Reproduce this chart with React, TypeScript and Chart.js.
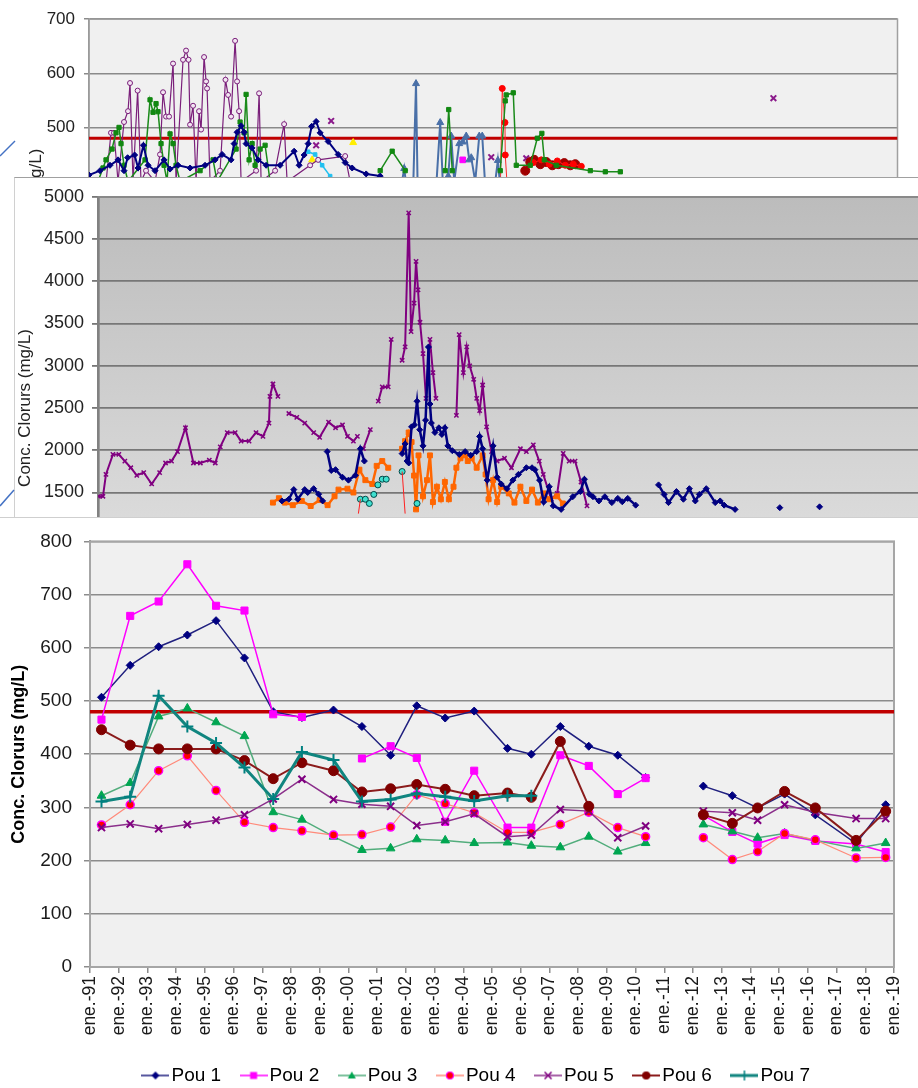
import React, { useEffect, useRef } from 'react';
import { Chart, registerables } from 'chart.js';

Chart.register(...registerables);

const FONT = "'Liberation Sans', Arial, Helvetica, sans-serif";

type Pt = [number, number | null];

// ================= Main chart (bottom) =================
const sampleYears = [1991.40, 1992.40, 1993.39, 1994.39, 1995.39, 1996.38, 1997.38, 1998.38, 1999.48, 2000.47, 2001.47, 2002.38, 2003.37, 2004.38, 2005.54, 2006.37, 2007.38, 2008.37, 2009.38, 2010.35, 2011.40, 2012.36, 2013.37, 2014.25, 2015.19, 2016.26, 2017.68, 2018.71];
const pou1 = [507, 567, 602, 624, 651, 581, 480, 469, 483, 452, 398, 491, 468, 481, 411, 400, 452, 415, 398, 356, null, 340, 322, 299, 325, 286, 232, 305];
const pou2 = [465, 660, 687, 757, 679, 670, 475, 470, null, 392, 415, 393, 273, 369, 262, 262, 398, 378, 325, 355, null, 285, 254, 232, 248, 237, 231, 216];
const pou3 = [322, 346, 471, 486, 460, 434, 291, 277, 245, 220, 223, 240, 238, 233, 234, 228, 225, 245, 217, 233, null, 268, 255, 243, 251, 238, 223, 233];
const pou4 = [267, 305, 369, 397, 332, 272, 262, 256, 248, 249, 263, 324, 307, 290, 253, 253, 268, 291, 262, 245, null, 243, 202, 217, 251, 239, 205, 206];
const pou5 = [262, 269, 260, 268, 276, 286, 316, 353, 315, 306, 302, 266, 273, 288, 245, 248, 296, 293, 243, 265, null, 293, 290, 276, 305, 291, 279, 279];
const pou6 = [446, 417, 410, 410, 410, 388, 354, 384, 369, 329, 335, 343, 334, 322, 327, 319, 424, 302, null, null, null, 286, 270, 299, 330, 299, 238, 293];
const pou7 = [311, 320, 510, 452, 421, 375, 316, 404, 389, 311, 315, 326, 320, 312, 322, 322];
const seriesLabels = ['Pou 1', 'Pou 2', 'Pou 3', 'Pou 4', 'Pou 5', 'Pou 6', 'Pou 7'];
const xTickLabels = ['ene.-91', 'ene.-92', 'ene.-93', 'ene.-94', 'ene.-95', 'ene.-96', 'ene.-97', 'ene.-98', 'ene.-99', 'ene.-00', 'ene.-01', 'ene.-02', 'ene.-03', 'ene.-04', 'ene.-05', 'ene.-06', 'ene.-07', 'ene.-08', 'ene.-09', 'ene.-10', 'ene.-11', 'ene.-12', 'ene.-13', 'ene.-14', 'ene.-15', 'ene.-16', 'ene.-17', 'ene.-18', 'ene.-19'];
const limitValue = 480;
const yTitle = 'Conc. Clorurs (mg/L)';

// ================= Background chart (top, cropped) =================
const topPurple: Pt[] = [[8, 380], [11, 490], [12.5, 490], [14.5, 400], [17.5, 510], [19.5, 530], [20.5, 582], [22, 400], [24.3, 568], [26, 400], [28.5, 420], [33, 400], [35.5, 450], [37, 565], [38.5, 520], [40, 520], [42, 618], [43.5, 400], [47, 625], [48.5, 642], [49.75, 625], [50.5, 505], [52, 540], [53.5, 400], [55, 530], [56, 496], [57.5, 630], [58.5, 585], [59, 572], [60.5, 400], [65.5, 420], [68.2, 588], [69.5, 560], [71, 520], [73, 660], [74, 585], [75, 530], [76, 400], [83.5, 420], [85, 563], [86, 400], [93, 420], [97.5, 506], [99, 400], [110.5, 430], [114.5, 440], [128, 447], [130.5, 400]];
const topGreen: Pt[] = [[4.5, 400], [7, 425], [8.5, 440], [11.5, 460], [13.5, 490], [15, 500], [16, 470], [17.5, 430], [19.5, 400], [28, 440], [30.5, 551], [32, 528], [33.5, 544], [34.5, 529], [36, 470], [37.5, 430], [39, 400], [40.5, 488], [42, 470], [43.5, 430], [45.5, 400], [55.5, 420], [62, 440], [64, 400], [73.5, 460], [75.5, 510], [77.5, 490], [78.5, 561], [80, 440], [81.5, 470], [83, 430], [85.5, 460], [88, 467], [90.5, 400], [92, null], [145.5, 420], [151.5, 456], [158, 420], [160, null], [178, 420], [179.75, 533], [181.5, 420], [190, null], [205.5, 420], [208, 549], [208.5, 560], [212, 564], [213.5, 430], [220.5, 430], [224, 480], [226.3, 489], [227.5, 440], [233.5, 430], [250.5, 420], [258, 418], [265.5, 418]];
const topNavy: Pt[] = [[0, 412], [5.5, 420], [10.5, 430], [14.5, 440], [17.5, 420], [19.3, 444], [22.8, 449], [24.5, 425], [27.2, 467], [29.5, 430], [33, 420], [37.5, 440], [40.5, 423], [44.5, 430], [50.5, 425], [58, 430], [63, 440], [66.5, 450], [71, 440], [72.5, 470], [74, 491], [76, 503], [77.5, 491], [78.5, 470], [81.5, 462], [84.5, 440], [88.5, 430], [95.5, 430], [102.5, 456], [105, 430], [107.5, 449], [109.5, 470], [111.25, 502], [113.5, 511], [115.5, 490], [119.5, 474], [124.5, 450], [128, 435], [131.5, 425], [138.5, 414], [145.5, 410]];
const topSteel: Pt[] = [[155.5, 380], [157.5, 424], [159, 380], [162, 390], [163.4, 581], [164.25, 380], [173.5, 390], [175.5, 509], [177, 380], [179.5, 410], [181, 484], [182.5, 400], [185, 470], [186.75, 473], [188.5, 484], [190, 440], [191, 444], [193, 400], [195, 484], [196.5, 484], [198, 390], [203, 400], [204.3, 439], [205.5, 390]];
const topRed: Pt[] = [[205.5, 380], [206.5, 572], [207.85, 509], [208, 449], [209, 390], [215, null], [222, 435], [226, 440], [230, 432], [234, 438], [238, 430], [242, 432], [246, 428]];
const topMaroon: Pt[] = [[218, 420], [220.5, 436], [222.5, 440], [225.5, 432], [228.5, 436], [231.5, 430], [234.5, 432], [237.5, 434], [240.5, 430], [243, 432]];
const topPurpleX: Pt[] = [[113.5, 467], [121, 512], [201, 445], [218.5, 443], [342, 554]];
const topYellow: Pt[] = [[132, 472], [111.5, 440]];
const topMagenta: Pt[] = [[186.75, 440]];
const topCyan: Pt[] = [[109.5, 455], [113, 450], [116.5, 430], [120.5, 410]];

// ================= Background chart (middle, cropped) =================
const midPurple: Pt[] = [[0.25, 1455], [2.5, 1455], [4, 1714], [7.5, 1950], [10.5, 1950], [13.5, 1872], [16.5, 1793], [19.5, 1703], [23, 1736], [27, 1601], [31, 1736], [34, 1849], [37, 1872], [40, 1984], [44, 2266], [48, 1849], [51.5, 1849], [56, 1883], [59, 1849], [61.5, 2040], [65, 2209], [69, 2209], [72, 2108], [76, 2108], [79.5, 2209], [83, 2164], [86, 2322], [86.5, 2637], [88, 2784], [90.5, 2637], [93, null], [96, 2435], [100, 2390], [104, 2322], [108.5, 2209], [111.5, 2153], [116, 2333], [119.5, 2266], [123, 2300], [125.5, 2164], [128.5, 2108], [130.5, 2164], [132, null], [133.5, 2018], [137, 2243], [139, null], [141, 2581], [143, 2750], [146, 2750], [147.5, 3313], [150, null], [153, 3065], [154.5, 3223], [156.3, 4810], [157.5, 3403], [159, 3741], [160, 4236], [161, 3898], [162, 3515], [163.5, 3144], [165, 2615], [167, 3313], [168.5, 2919], [170, 2615], [175, null], [180.3, 2412], [181.7, 3369], [183.8, 2919], [185.5, 3223], [187, 2998], [189, 2840], [190.5, 2615], [192, 2468], [193.5, 2772], [195.5, 2277], [198, 1984], [200.8, 1872], [204.5, 1905], [208, 1793], [212.5, 2018], [215.5, 1984], [219, 2063], [222, 1872], [224, 1714], [228, 1421], [231, 1489], [234, 1962], [237, 1872], [240, 1872], [243, 1624], [246, 1342]];
const midNavy: Pt[] = [[92.5, 1400], [96, 1420], [98.5, 1534], [100.5, 1420], [104, 1534], [105.5, 1500], [108.5, 1545], [111, 1480], [113, 1400], [114, null], [115.3, 1984], [117.35, 1760], [119.5, 1770], [123, 1680], [126, 1646], [129.5, 1703], [132, 2018], [134, 1872], [135, null], [153, 1960], [154.5, 2075], [155.5, 1872], [156.3, 1850], [157.75, 2277], [159.2, 2300], [160.5, 2580], [161.85, 2243], [163.5, 2052], [164.8, 2356], [166.25, 3222], [167, 2547], [167.7, 2322], [169.5, 2210], [171.5, 2266], [173, 2187], [174.5, 2266], [176, 2052], [178.25, 1995], [181.75, 1950], [184.7, 1984], [187.5, 1940], [190.5, 1984], [192, 2164], [193.5, 2018], [195.8, 1646], [198.75, 2052], [200.8, 1680], [202.85, 1600], [205.75, 1545], [208.7, 1646], [211.5, 1714], [215.5, 1793], [218.35, 1793], [219.8, 1770], [222.15, 1646], [224.2, 1387], [227, 1568], [229, 1342], [233, 1300], [238.85, 1450], [242.65, 1511], [244.7, 1657], [247.25, 1480], [249, 1450], [252, 1400], [255, 1450], [258.5, 1380], [261.5, 1430], [263.75, 1390], [266.5, 1430], [270.5, 1350], [275, null], [282, 1590], [284.8, 1477], [287, 1380], [291, 1511], [294.5, 1420], [297.5, 1545], [300.5, 1400], [302.5, 1477], [306, 1545], [310.5, 1380], [313, 1400], [315, 1350], [320.5, 1300], [330, null], [343, 1320], [350, null], [363, 1330]];
const midOrange: Pt[] = [[88, 1380], [91, 1432], [94, 1380], [98, 1350], [102.5, 1400], [107, 1340], [111.5, 1410], [115.5, 1350], [119, 1455], [121, 1534], [125.5, 1545], [128.5, 1500], [131.5, 1770], [134.5, 1646], [138, 1601], [140.2, 1815], [143, 1872], [146, 1793], [150, null], [153, 2018], [154.5, 2108], [156.3, 2210], [157.75, 2097], [159, 1700], [160, 1300], [161.25, 1939], [163.5, 1455], [165.5, 1646], [167, 1939], [168.5, 1387], [170.5, 1568], [172.5, 1420], [174.5, 1624], [176.5, 1420], [178.85, 1568], [180.3, 1793], [182.35, 1905], [184.7, 1939], [186, 1872], [188, 1905], [190.5, 1793], [193.5, 1939], [195, 1714], [196.5, 1420], [198.75, 1646], [200.8, 1387], [202.85, 1568], [206.65, 1489], [209.5, 1380], [212.5, 1568], [215.5, 1400], [218.35, 1534], [221.3, 1380], [224.2, 1489], [227, 1420], [231, 1455], [233.85, 1370]];
const midCyan: Pt[] = [[132, 1420], [134.5, 1420], [136.5, 1370], [138.75, 1477], [140.8, 1590], [143, 1657], [145, 1657], [150, null], [153, 1748], [155, null], [160.5, 1370]];
const midRed: Pt[] = [[131, 1250], [132, 1420], [140, null], [153, 1748], [154.5, 1250]];

// ================= helpers =================
const pairs = (arr: Pt[]) => arr.map(([x, y]) => ({ x, y }));

function ds(arr: Pt[], o: any) {
  return {
    data: pairs(arr),
    borderColor: o.line,
    borderWidth: o.width,
    pointStyle: o.style,
    pointRadius: o.radius,
    pointBackgroundColor: o.fill,
    pointBorderColor: o.stroke ?? o.fill,
    pointBorderWidth: o.pbw ?? 1,
    showLine: o.showLine ?? true,
    spanGaps: false,
    order: o.order ?? 0,
  };
}

function areaPlugin(fill: (ctx: CanvasRenderingContext2D, a: any) => any, border: string, bw: number) {
  return {
    id: 'areaBg',
    beforeDraw(chart: any) {
      const { ctx, chartArea: a } = chart;
      ctx.save();
      ctx.fillStyle = fill(ctx, a);
      ctx.fillRect(a.left, a.top, a.right - a.left, a.bottom - a.top);
      ctx.restore();
    },
    beforeDatasetsDraw(chart: any) {
      const { ctx, chartArea: a } = chart;
      ctx.save();
      ctx.strokeStyle = border;
      ctx.lineWidth = bw;
      ctx.strokeRect(a.left, a.top, a.right - a.left, a.bottom - a.top);
      ctx.restore();
    },
  };
}

const legendShift = {
  id: 'legendShift',
  afterLayout(chart: any) {
    if (chart.legend) {
      chart.legend.left += 27;
      chart.legend.right += 27;
    }
  },
};

const mainStyles = [
  { line: '#20207f', width: 1.5, style: 'rectRot', radius: 4, fill: '#000080', stroke: '#000080' },
  { line: '#ff00ff', width: 1.5, style: 'rect', radius: 5, fill: '#ff00ff', stroke: '#ff00ff' },
  { line: '#52ad7c', width: 1.5, style: 'triangle', radius: 5, fill: '#00a651', stroke: '#00a651' },
  { line: '#ff8a7a', width: 1.2, style: 'circle', radius: 4, fill: '#ff0000', stroke: '#ff00ff', pbw: 1.5 },
  { line: '#8b2f8b', width: 1.5, style: 'crossRot', radius: 5, fill: '#800080', stroke: '#800080', pbw: 2 },
  { line: '#8b1c1c', width: 2, style: 'circle', radius: 5, fill: '#800000', stroke: '#800000' },
  { line: '#10857f', width: 3, style: 'cross', radius: 6, fill: '#008080', stroke: '#008080', pbw: 2 },
];

function makeIcon(s: any) {
  const c = document.createElement('canvas');
  c.width = 28;
  c.height = 14;
  const g = c.getContext('2d')!;
  const cx = 14, cy = 7;
  g.strokeStyle = s.line;
  g.lineWidth = Math.max(1.5, s.width);
  g.beginPath();
  g.moveTo(0, cy);
  g.lineTo(28, cy);
  g.stroke();
  g.fillStyle = s.fill;
  g.strokeStyle = s.stroke;
  g.lineWidth = 1.2;
  g.beginPath();
  switch (s.style) {
    case 'rectRot':
      g.moveTo(cx, cy - 4); g.lineTo(cx + 4, cy); g.lineTo(cx, cy + 4); g.lineTo(cx - 4, cy); g.closePath(); g.fill();
      break;
    case 'rect':
      g.fillRect(cx - 3.5, cy - 3.5, 7, 7);
      break;
    case 'triangle':
      g.moveTo(cx, cy - 4); g.lineTo(cx + 4, cy + 3); g.lineTo(cx - 4, cy + 3); g.closePath(); g.fill();
      break;
    case 'circle':
      g.arc(cx, cy, 3.5, 0, Math.PI * 2); g.fill(); g.stroke();
      break;
    case 'crossRot':
      g.lineWidth = 1.5;
      g.moveTo(cx - 3.5, cy - 3.5); g.lineTo(cx + 3.5, cy + 3.5); g.moveTo(cx + 3.5, cy - 3.5); g.lineTo(cx - 3.5, cy + 3.5); g.stroke();
      break;
    case 'cross':
      g.lineWidth = 1.5;
      g.moveTo(cx, cy - 5); g.lineTo(cx, cy + 5); g.stroke();
      break;
  }
  return c;
}

// ================= configs =================
function topConfig(): any {
  return {
    type: 'line',
    data: {
      datasets: [
        ds(topNavy, { line: '#000080', width: 2, style: 'rectRot', radius: 3, fill: '#000080' }),
        ds(topGreen, { line: '#1a8a1a', width: 1.5, style: 'rect', radius: 3, fill: '#118811' }),
        ds(topPurple, { line: '#7a1f7a', width: 1.2, style: 'circle', radius: 2.5, fill: '#f2e4f2', stroke: '#7a1f7a' }),
        ds(topSteel, { line: '#4a70a8', width: 2, style: 'triangle', radius: 4, fill: '#4a70a8' }),
        ds(topRed, { line: '#ff2a2a', width: 1, style: 'circle', radius: 3, fill: '#ff0000' }),
        ds(topMaroon, { line: '#a00000', width: 1.5, style: 'circle', radius: 4.5, fill: '#a00000' }),
        ds(topCyan, { line: '#20c0f0', width: 1.5, style: 'rect', radius: 2.5, fill: '#20c0f0' }),
        ds(topPurpleX, { line: '#8b1a8b', width: 1, style: 'crossRot', radius: 4, fill: '#8b1a8b', pbw: 2, showLine: false }),
        ds(topYellow, { line: '#ffee00', width: 1, style: 'triangle', radius: 4, fill: '#ffee00', showLine: false }),
        ds(topMagenta, { line: '#ff00ff', width: 1, style: 'rect', radius: 4, fill: '#ff00ff', showLine: false }),
        { data: [{ x: 0, y: limitValue }, { x: 404, y: limitValue }], borderColor: '#c00000', borderWidth: 3, pointRadius: 0, order: 100 },
      ],
    },
    options: {
      responsive: false,
      animation: false,
      devicePixelRatio: 1,
      layout: { padding: { top: 14, right: 20.5, bottom: 2, left: 0 } },
      plugins: { legend: { display: false }, tooltip: { enabled: false } },
      scales: {
        x: { type: 'linear', min: 0, max: 404, display: false },
        y: {
          min: -70, max: 700,
          ticks: {
            stepSize: 100, font: { size: 17, family: FONT }, color: '#222', padding: 9,
            callback: (v: number) => (v >= 450 ? String(v) : ''),
          },
          grid: { color: '#8a8a8a', lineWidth: 1.5, tickLength: 5 },
          border: { color: '#8a8a8a', width: 1.5 },
          title: { display: true, text: yTitle, font: { size: 17, family: FONT }, color: '#222', padding: { top: 26, bottom: 0 } },
          afterFit(s: any) { s.width = 89; },
        },
      },
    },
    plugins: [areaPlugin(() => '#f0f0f0', '#a0a0a0', 1.5)],
  };
}

function midConfig(): any {
  return {
    type: 'line',
    data: {
      datasets: [
        ds(midRed, { line: '#ff2020', width: 1, style: 'circle', radius: 0, fill: '#ff2020' }),
        ds(midCyan, { line: '#ff2020', width: 0, style: 'circle', radius: 3, fill: '#40e0d0', stroke: '#004848', showLine: false }),
        ds(midNavy, { line: '#000080', width: 2.5, style: 'rectRot', radius: 3, fill: '#000080' }),
        ds(midOrange, { line: '#ff6600', width: 2.5, style: 'rect', radius: 3.5, fill: '#ff6600' }),
        ds(midPurple, { line: '#800080', width: 2, style: 'crossRot', radius: 3, fill: '#800080', pbw: 1.5 }),
      ],
    },
    options: {
      responsive: false,
      animation: false,
      devicePixelRatio: 1,
      layout: { padding: { top: 12, right: 0, bottom: 4, left: 0 } },
      plugins: { legend: { display: false }, tooltip: { enabled: false } },
      scales: {
        x: { type: 'linear', min: 0, max: 450, display: false },
        y: {
          min: 0, max: 5000,
          ticks: {
            stepSize: 500, font: { size: 18, family: FONT }, color: '#222', padding: 8,
            callback: (v: number) => String(v),
          },
          grid: { color: '#777777', lineWidth: 1.8, tickLength: 6 },
          border: { color: '#666666', width: 2.5 },
          title: { display: true, text: yTitle, font: { size: 17, family: FONT }, color: '#222', padding: { top: 1, bottom: 0 } },
          afterFit(s: any) { s.width = 84; },
        },
      },
    },
    plugins: [areaPlugin((ctx, a) => {
      const g = ctx.createLinearGradient(0, a.top, 0, a.bottom);
      g.addColorStop(0, '#bcbcbc');
      g.addColorStop(1, '#e4e4e4');
      return g;
    }, '#8a8a8a', 1.5)],
  };
}

function mainConfig(): any {
  const seriesValues = [pou1, pou2, pou3, pou4, pou5, pou6, pou7];
  const datasets: any[] = seriesValues.map((vals, i) => {
    const s = mainStyles[i];
    return {
      label: seriesLabels[i],
      data: sampleYears.map((x, k) => ({ x, y: vals[k] ?? null })),
      borderColor: s.line,
      borderWidth: s.width,
      pointStyle: s.style,
      pointRadius: s.radius,
      pointBackgroundColor: s.fill,
      pointBorderColor: s.stroke,
      pointBorderWidth: s.pbw ?? 1,
      spanGaps: false,
      order: 6 - i,
    };
  });
  datasets.push({
    label: 'limit',
    data: [{ x: 1991, y: limitValue }, { x: 2019, y: limitValue }],
    borderColor: '#c00000',
    borderWidth: 3.5,
    pointRadius: 0,
    order: 100,
  });
  const icons = mainStyles.map(makeIcon);
  return {
    type: 'line',
    data: { datasets },
    options: {
      responsive: false,
      animation: false,
      devicePixelRatio: 1,
      layout: { padding: { top: 18, right: 13, bottom: 0, left: 0 } },
      plugins: {
        tooltip: { enabled: false },
        legend: {
          position: 'bottom',
          labels: {
            usePointStyle: true,
            pointStyleWidth: 13,
            padding: 26,
            color: '#1a1a1a',
            font: { size: 19, family: FONT },
            generateLabels: () => seriesLabels.map((t, i) => ({
              text: t,
              pointStyle: icons[i],
              fillStyle: mainStyles[i].fill,
              strokeStyle: mainStyles[i].line,
              lineWidth: 0,
              hidden: false,
              datasetIndex: i,
              rotation: 0,
            })),
          },
        },
      },
      scales: {
        x: {
          type: 'linear', min: 1991, max: 2019,
          ticks: {
            stepSize: 1, autoSkip: false, maxRotation: 90, minRotation: 90,
            font: { size: 17.5, family: FONT }, color: '#1a1a1a', padding: 3,
            callback: (v: number) => xTickLabels[Math.round(v - 1991)] ?? '',
          },
          grid: { drawOnChartArea: false, color: '#8c8c8c', lineWidth: 1.5, tickLength: 6 },
          border: { color: '#8c8c8c', width: 2 },
          afterFit(s: any) { s.height = 73; },
        },
        y: {
          min: 0, max: 800,
          ticks: { stepSize: 100, font: { size: 19, family: FONT }, color: '#1a1a1a', padding: 12 },
          grid: { color: '#8c8c8c', lineWidth: 1.5, tickLength: 6 },
          border: { color: '#8c8c8c', width: 2 },
          title: { display: true, text: yTitle, font: { size: 18, weight: 'bold', family: FONT }, color: '#000', padding: { top: 8, bottom: 0 } },
          afterFit(s: any) { s.width = 90; },
        },
      },
    },
    plugins: [areaPlugin(() => '#f0f0f0', '#a6a6a6', 2), legendShift],
  };
}

function ChartCanvas({ make, width, height, style }: any) {
  const ref = useRef<HTMLCanvasElement | null>(null);
  useEffect(() => {
    const chart = new Chart(ref.current!, make());
    return () => chart.destroy();
  }, []);
  return <canvas ref={ref} width={width} height={height} style={{ position: 'absolute', display: 'block', width, height, ...style }} />;
}

export default function App() {
  return (
    <div style={{ position: 'fixed', left: 0, top: 0, width: 918, height: 1088, overflow: 'hidden', background: '#fff', fontFamily: FONT }}>
      <ChartCanvas make={topConfig} width={918} height={455} style={{ left: 0, top: 0, zIndex: 1 }} />
      <div style={{ position: 'absolute', left: 14, top: 177, width: 1000, height: 480, background: '#fff', borderTop: '1.5px solid #a0a0a0', borderLeft: '1px solid #d0d0d0', zIndex: 2 }} />
      <ChartCanvas make={midConfig} width={984} height={460} style={{ left: 14, top: 178, zIndex: 3 }} />
      <div style={{ position: 'absolute', left: 0, top: 517, width: 918, height: 580, background: '#fff', borderTop: '1px solid #cfcfcf', zIndex: 4 }} />
      <ChartCanvas make={mainConfig} width={918} height={577} style={{ left: 0, top: 518, zIndex: 5 }} />
      <svg width={918} height={1088} style={{ position: 'absolute', left: 0, top: 0, zIndex: 6, pointerEvents: 'none' }}>
        <line x1={0} y1={156} x2={15} y2={141} stroke="#4472c4" strokeWidth={1.5} />
        <line x1={0} y1={506} x2={14} y2={490} stroke="#4472c4" strokeWidth={1.5} />
      </svg>
    </div>
  );
}
